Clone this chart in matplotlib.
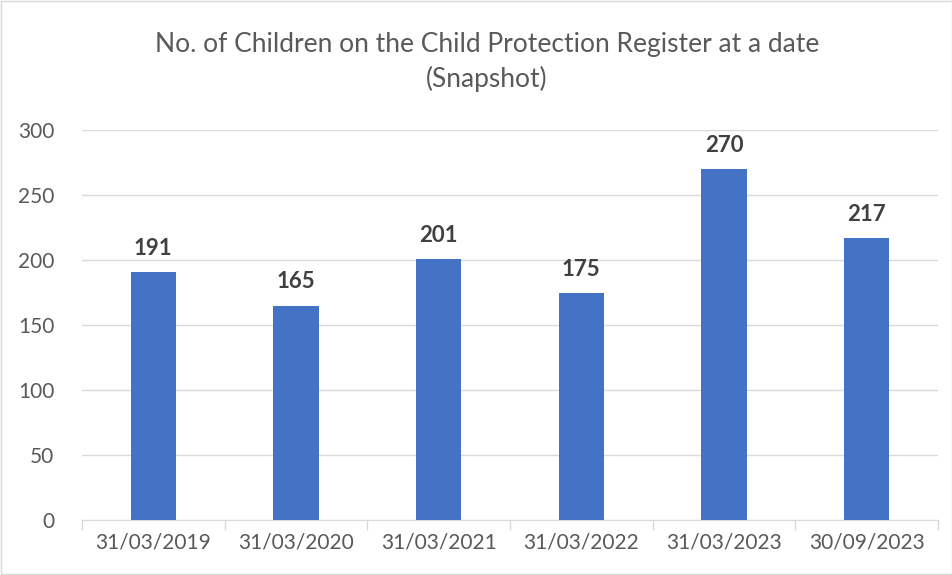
import matplotlib
matplotlib.use("Agg")
import matplotlib.pyplot as plt
from matplotlib.patches import Rectangle

categories = ["31/03/2019", "31/03/2020", "31/03/2021", "31/03/2022", "31/03/2023", "30/09/2023"]
values = [191, 165, 201, 175, 270, 217]
yticks = [0, 50, 100, 150, 200, 250, 300]
title = "No. of Children on the Child Protection Register at a date\n(Snapshot)"

plt.rcParams['font.family'] = ['Lato', 'DejaVu Sans']

fig = plt.figure(figsize=(9.53, 5.75), dpi=100)
ax = fig.add_axes([82/953, 55/575, (938-82)/953, (520-130)/575])

x = list(range(len(categories)))
bars = ax.bar(x, values, width=0.32, color="#4472C4", zorder=3)
for xi, v in zip(x, values):
    ax.text(xi, v + 10, str(v), ha="center", va="bottom", fontsize=16,
            fontweight="bold", color="#404040")

ax.set_ylim(0, 300)
ax.set_xlim(-0.5, len(categories) - 0.5)
ax.set_yticks(yticks)
ax.set_yticklabels([str(t) for t in yticks], fontsize=15, color="#595959")
ax.set_xticks(x)
ax.set_xticklabels(categories, fontsize=15, color="#595959")
ax.tick_params(axis="x", length=0, pad=9)
ax.tick_params(axis="y", length=0, pad=20)
ax.set_xticks([i - 0.5 for i in range(len(categories) + 1)], minor=True)
ax.tick_params(axis="x", which="minor", length=7, color="#d9d9d9", width=1)
ax.grid(axis="y", color="#d9d9d9", linewidth=1, zorder=0)
for s in ["top", "right", "left"]:
    ax.spines[s].set_visible(False)
ax.spines["bottom"].set_color("#d9d9d9")

fig.text(487/953, 1 - 62/575, title, ha="center", va="center", fontsize=19,
         color="#595959", linespacing=1.45)

fig.patches.append(Rectangle((0.001, 0.001), 0.998, 0.998, transform=fig.transFigure,
                             fill=False, edgecolor="#d9d9d9", linewidth=1))

fig.savefig("out.png", dpi=100, facecolor="white")
